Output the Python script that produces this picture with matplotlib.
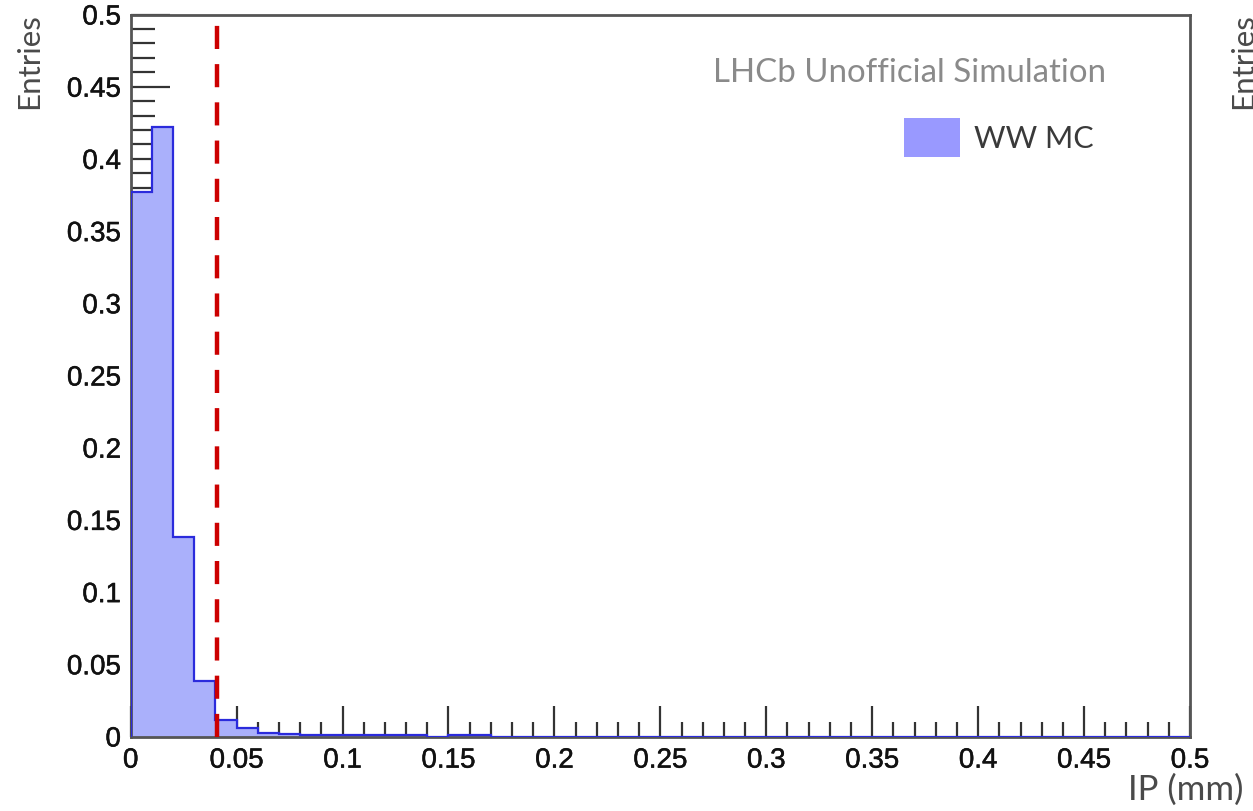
import matplotlib
matplotlib.use("Agg")
import matplotlib.pyplot as plt
import matplotlib.patheffects as pe
from matplotlib.patches import Rectangle
from matplotlib.ticker import MultipleLocator, FixedLocator

# ---- data ----
bin_edges = [round(0.01 * i, 2) for i in range(51)]
entries = [0.377, 0.422, 0.1385, 0.0385, 0.0114, 0.0057, 0.0026, 0.0016,
           0.0012, 0.0012, 0.0012, 0.0012, 0.0012, 0.0012, 0.0, 0.0012, 0.0012] + [0.0] * 33
cut_value = 0.0405
x_ticks = [0, 0.05, 0.1, 0.15, 0.2, 0.25, 0.3, 0.35, 0.4, 0.45, 0.5]
x_ticklabels = ["0", "0.05", "0.1", "0.15", "0.2", "0.25", "0.3", "0.35", "0.4", "0.45", "0.5"]
y_ticks = [0, 0.05, 0.1, 0.15, 0.2, 0.25, 0.3, 0.35, 0.4, 0.45, 0.5]
y_ticklabels = ["0", "0.05", "0.1", "0.15", "0.2", "0.25", "0.3", "0.35", "0.4", "0.45", "0.5"]
legend_label = "WW MC"

W, H = 1253, 811
fig = plt.figure(figsize=(W / 100, H / 100), dpi=100)
ax = fig.add_axes([130.7 / W, 1 - 736.5 / H, (1190 - 130.7) / W, (736.5 - 14.5) / H])

fill_col = "#aab0fb"
edge_col = "#2b2bdc"
ax.stairs(entries, bin_edges, fill=True, facecolor=fill_col, edgecolor="none", zorder=2)
ax.stairs(entries, bin_edges, fill=False, color=edge_col, linewidth=1.6, zorder=3)
ax.axvline(cut_value, ymin=0.0, ymax=0.997, color="#cc0000", linewidth=3.2,
           linestyle=(0, (5.2, 3.4)), zorder=4)

ax.set_xlim(0, 0.5)
ax.set_ylim(0, 0.5)

ax.xaxis.set_major_locator(FixedLocator(x_ticks))
ax.set_xticklabels(x_ticklabels)
ax.yaxis.set_major_locator(FixedLocator(y_ticks))
ax.set_yticklabels(y_ticklabels)
ax.xaxis.set_minor_locator(MultipleLocator(0.01))
ax.yaxis.set_minor_locator(MultipleLocator(0.01))

tick_col = "#333333"
ax.tick_params(axis="x", which="major", direction="in", length=22, width=1.6, color=tick_col,
               top=False, pad=8, labelsize=20, labelcolor="#111111")
ax.tick_params(axis="x", which="minor", direction="in", length=11, width=1.6, color=tick_col, top=False)
ax.tick_params(axis="y", which="major", direction="in", length=28, width=1.6, color=tick_col,
               right=False, pad=7, labelsize=20, labelcolor="#111111")
ax.tick_params(axis="y", which="minor", direction="in", length=17, width=1.6, color=tick_col, right=False)
for lab in ax.get_xticklabels() + ax.get_yticklabels():
    lab.set_fontfamily("Liberation Sans")
    lab.set_path_effects([pe.withStroke(linewidth=0.35, foreground="#111111")])

for s in ax.spines.values():
    s.set_color("#555555")
    s.set_linewidth(2)

txt = dict(family=["Lato", "DejaVu Sans"], fontweight="normal")

fig.text(1106 / W, 1 - 81.7 / H, "LHCb Unofficial Simulation", ha="right", va="baseline",
         fontsize=23.8, color="#8a8a8a", **txt)

# legend
ax_tr = ax.transAxes.inverted()
def fig_px_to_axes(x, y):
    return ax_tr.transform(fig.transFigure.transform((x / W, 1 - y / H)))
x0, y0 = fig_px_to_axes(904, 157)
x1, y1 = fig_px_to_axes(960, 118)
ax.add_patch(Rectangle((x0, y0), x1 - x0, y1 - y0, transform=ax.transAxes,
                       facecolor="#9999ff", edgecolor="none", zorder=5))
fig.text(974 / W, 1 - 148 / H, legend_label, ha="left", va="baseline",
         fontsize=22, color="#3a3a3a", **txt)

fig.text(15 / W, 1 - 13 / H, "Entries", rotation=90, ha="left", va="top",
         fontsize=22.5, color="#4a4a4a", **txt)
fig.text(1229 / W, 1 - 13 / H, "Entries", rotation=90, ha="left", va="top",
         fontsize=22.5, color="#4a4a4a", **txt)
fig.text(1243 / W, 1 - 800 / H, "IP (mm)", ha="right", va="baseline",
         fontsize=25, color="#4a4a4a", **txt)

fig.savefig("out.png", dpi=100)
